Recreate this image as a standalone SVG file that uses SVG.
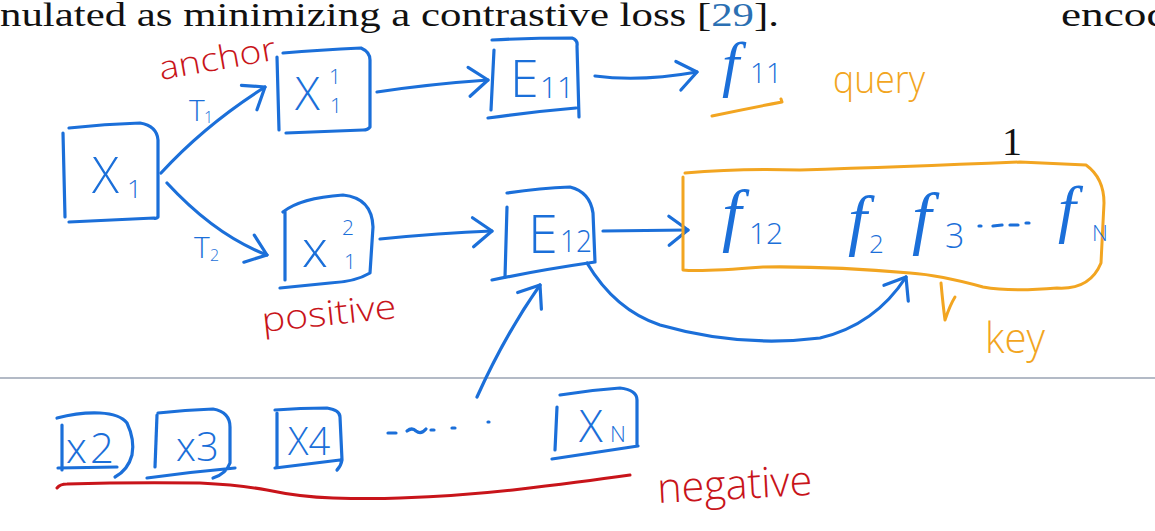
<svg xmlns="http://www.w3.org/2000/svg" width="1155" height="531" viewBox="0 0 1155 531">
<style>
.bx{fill:none;stroke:#1b6fd9;stroke-width:3.2;stroke-linecap:round;stroke-linejoin:round}
.cn{fill:none;stroke:#1b6fd9;stroke-width:3.2;stroke-linecap:round;stroke-linejoin:round}
.or{fill:none;stroke:#f2a521;stroke-width:3;stroke-linecap:round;stroke-linejoin:round}
.rd{fill:none;stroke:#c8141a;stroke-width:3;stroke-linecap:round;stroke-linejoin:round}
.lb{fill:#1b6fd9;font-family:"Open Sans","DejaVu Sans",sans-serif;font-weight:300}
.lf{fill:#1b6fd9;font-family:"Liberation Serif",serif;font-style:italic}
.red{fill:#c8141a;font-family:"Open Sans","DejaVu Sans",sans-serif;font-weight:300}
.org{fill:#f2a521;font-family:"Open Sans","DejaVu Sans",sans-serif;font-weight:300}
.pt{fill:#111;font-family:"Liberation Serif","Times New Roman",serif}
</style>
<defs>
<marker id="ah" viewBox="-24 -20 28 40" refX="0" refY="0" markerWidth="28" markerHeight="40" markerUnits="userSpaceOnUse" orient="auto">
<path d="M -19 -14 L 0 0 L -19 15" fill="none" stroke="#1b6fd9" stroke-width="3.2" stroke-linecap="round" stroke-linejoin="round"/>
</marker>
</defs>
<rect x="0" y="0" width="1155" height="531" fill="#ffffff"/>

<g id="paper-text">
<text class="pt" x="0" y="26" font-size="34" textLength="779" lengthAdjust="spacingAndGlyphs">nulated as minimizing a contrastive loss [<tspan fill="#2b70b3">29</tspan>].</text>
<text class="pt" x="1061" y="26" font-size="34" textLength="108" lengthAdjust="spacingAndGlyphs">encod</text>
<text class="pt" x="1002" y="155" font-size="40">1</text>
<line x1="0" y1="378" x2="1155" y2="378" stroke="#b3bac6" stroke-width="2"/>
</g>

<g id="connectors">
<path class="cn" d="M 161 173 Q 205 125 265 87" marker-end="url(#ah)"/>
<path class="cn" d="M 167 183 Q 215 235 267 255" marker-end="url(#ah)"/>
<path class="cn" d="M 377 92 Q 430 84 488 80" marker-end="url(#ah)"/>
<path class="cn" d="M 595 76 Q 640 82 697 72" marker-end="url(#ah)"/>
<path class="cn" d="M 380 239 Q 440 233 492 231" marker-end="url(#ah)"/>
<path class="cn" d="M 603 231 L 688 230" marker-end="url(#ah)"/>
<path class="cn" d="M 587 263 Q 615 310 660 325 Q 740 348 820 338 Q 875 325 906 277" marker-end="url(#ah)"/>
<path class="cn" d="M 477 397 Q 505 335 540 285" marker-end="url(#ah)"/>
</g>

<g id="node-x1">
<path class="bx" d="M 63 133 L 65 217"/>
<path class="bx" d="M 69 128 Q 105 124 140 123 Q 157 126 158 140 L 158 217 Q 156 219 154 218 L 69 222"/>
<text class="lb" x="92" y="193" font-size="50">X</text>
<text class="lb" x="127" y="198" font-size="26">1</text>
</g>

<g id="node-x11">
<path class="bx" d="M 277 57 L 279 130"/>
<path class="bx" d="M 283 53 Q 320 50 361 48 Q 370 52 370 60 L 370 127 Q 368 130 363 130 L 286 133"/>
<text class="lb" x="295" y="110" font-size="46">X</text>
<text class="lb" x="329" y="84" font-size="21">1</text>
<text class="lb" x="330" y="113" font-size="21">1</text>
</g>

<g id="node-e11">
<path class="bx" d="M 494 50 L 491 110"/>
<path class="bx" d="M 492 40 Q 530 38 572 38 Q 578 40 577 46 L 579 117 M 576 108 Q 530 112 488 118"/>
<text class="lb" x="510" y="97" font-size="52">E</text>
<text class="lb" x="540" y="98" font-size="30">11</text>
</g>

<g id="node-f11">
<text class="lf" x="722" y="85" font-size="62">f</text>
<text class="lb" x="750" y="83" font-size="28">11</text>
<path class="or" d="M 712 116 Q 750 108 782 102 L 781 99"/>
</g>

<g id="label-query">
<text class="org" x="833" y="93" font-size="38" textLength="92" lengthAdjust="spacingAndGlyphs">query</text>
</g>

<g id="label-anchor">
<text class="red" x="161" y="80" font-size="33" textLength="118" lengthAdjust="spacingAndGlyphs" transform="rotate(-10 161 80)">anchor</text>
</g>

<g id="label-t1">
<text class="lb" x="189" y="121" font-size="30">T</text>
<text class="lb" x="204" y="123" font-size="16">1</text>
</g>

<g id="label-t2">
<text class="lb" x="194" y="258" font-size="30">T</text>
<text class="lb" x="210" y="261" font-size="16">2</text>
</g>

<g id="node-x12">
<path class="bx" d="M 285 212 L 285 280"/>
<path class="bx" d="M 283 212 Q 300 198 343 195 Q 372 198 373 227 L 370 273 Q 355 282 330 283 L 280 288"/>
<text class="lb" x="302" y="267" font-size="52">x</text>
<text class="lb" x="342" y="235" font-size="21">2</text>
<text class="lb" x="344" y="269" font-size="21">1</text>
</g>

<g id="label-positive">
<text class="red" x="263" y="332" font-size="34" textLength="135" lengthAdjust="spacingAndGlyphs" transform="rotate(-6 263 332)">positive</text>
</g>

<g id="node-e12">
<path class="bx" d="M 507 207 L 505 277"/>
<path class="bx" d="M 507 193 Q 540 188 570 187 Q 590 192 593 213 L 595 262 M 595 262 Q 540 270 492 280"/>
<text class="lb" x="528" y="253" font-size="54">E</text>
<text class="lb" x="560" y="252" font-size="32" textLength="32" lengthAdjust="spacingAndGlyphs">12</text>
</g>

<g id="node-keys">
<path class="or" d="M 685 173 Q 740 168 800 170 Q 900 167 1020 162 L 1086 165 Q 1104 178 1104 203 L 1101 263 Q 1090 290 1057 288 Q 1010 292 983 287 Q 940 275 910 273 Q 830 266 763 267 Q 700 272 683 270 L 683 177"/>
<text class="lf" x="722" y="238" font-size="70">f</text>
<text class="lb" x="749" y="244" font-size="30">12</text>
<text class="lf" x="848" y="243" font-size="68">f</text>
<text class="lb" x="869" y="253" font-size="26">2</text>
<text class="lf" x="912" y="241" font-size="70">f</text>
<text class="lb" x="945" y="248" font-size="34">3</text>
<path class="cn" d="M 979 226 l 2 0 M 993 226 l 9 -1 M 1010 225 l 8 0 M 1026 223 l 3 0"/>
<text class="lf" x="1058" y="230" font-size="64">f</text>
<text class="lb" x="1092" y="241" font-size="22">N</text>
</g>

<g id="label-key">
<path class="or" d="M 941 283 Q 943 305 945 320 Q 950 305 955 297"/>
<text class="org" x="985" y="353" font-size="42" textLength="60" lengthAdjust="spacingAndGlyphs">key</text>
</g>

<g id="node-x2">
<path class="bx" d="M 62 425 L 62 470"/>
<path class="bx" d="M 57 418 Q 80 412 100 413 Q 120 414 127 423 Q 135 440 132 455 Q 128 470 115 477 M 58 468 L 117 467"/>
<text class="lb" x="66" y="463" font-size="42" letter-spacing="3">x2</text>
</g>

<g id="node-x3">
<path class="bx" d="M 157 415 L 155 467"/>
<path class="bx" d="M 158 413 Q 185 410 213 409 Q 230 412 230 427 L 230 463 Q 226 474 213 478 M 147 478 Q 190 472 235 468"/>
<text class="lb" x="176" y="461" font-size="40">x3</text>
</g>

<g id="node-x4">
<path class="bx" d="M 277 413 L 277 467"/>
<path class="bx" d="M 275 410 Q 300 408 327 408 Q 340 410 340 417 L 342 460 Q 341 466 337 470 M 275 468 L 340 460"/>
<text class="lb" x="288" y="455" font-size="38">X4</text>
</g>

<g id="dots-negatives">
<path class="cn" d="M 388 433 l 8 0 M 407 431 q 5 -4 9 0 q 5 4 10 -2 M 431 430 l 3 0 M 452 428 l 3 0 M 488 422 l 1 0"/>
</g>

<g id="node-xn">
<path class="bx" d="M 557 407 L 555 450"/>
<path class="bx" d="M 560 395 Q 590 390 620 388 Q 637 390 637 400 L 637 445 M 552 459 L 638 446"/>
<text class="lb" x="579" y="442" font-size="44">X</text>
<text class="lb" x="610" y="442" font-size="22">N</text>
</g>

<g id="label-negative">
<path class="rd" d="M 57 488 Q 60 484 67 484 Q 130 482 200 483 Q 240 485 267 490 Q 300 497 333 498 Q 370 499 400 498 Q 460 496 513 490 Q 580 482 630 475"/>
<text class="red" x="658" y="503" font-size="42" textLength="155" lengthAdjust="spacingAndGlyphs" transform="rotate(-3 658 503)">negative</text>
</g>
</svg>
